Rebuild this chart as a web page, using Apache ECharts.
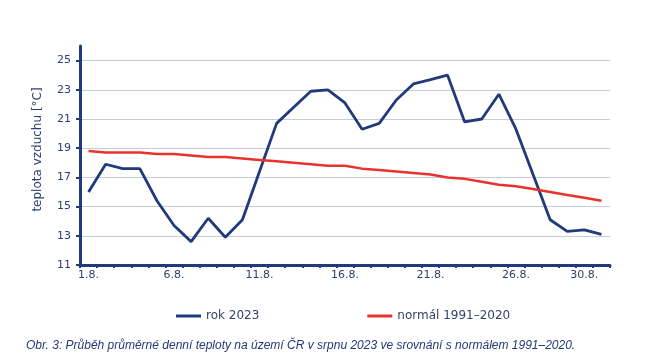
<!DOCTYPE html>
<html>
<head>
<meta charset="utf-8">
<script src="https://cdn.jsdelivr.net/npm/echarts@6/dist/echarts.min.js"></script>
<style>
html,body{margin:0;padding:0;background:#fff;}
#chart{width:651px;height:361px;}
</style>
</head>
<body>
<div id="chart"></div>
<script>
var days = ["1.8.","2.8.","3.8.","4.8.","5.8.","6.8.","7.8.","8.8.","9.8.","10.8.","11.8.","12.8.","13.8.","14.8.","15.8.","16.8.","17.8.","18.8.","19.8.","20.8.","21.8.","22.8.","23.8.","24.8.","25.8.","26.8.","27.8.","28.8.","29.8.","30.8.","31.8."];
var labeledDays = ["1.8.","6.8.","11.8.","16.8.","21.8.","26.8.","30.8."];
var rok2023 = [16.0,17.9,17.6,17.6,15.4,13.7,12.6,14.2,12.9,14.1,17.4,20.7,21.8,22.9,23.0,22.1,20.3,20.7,22.3,23.4,23.7,24.0,20.8,21.0,22.7,20.3,17.2,14.1,13.3,13.4,13.1];
var normal = [18.8,18.7,18.7,18.7,18.6,18.6,18.5,18.4,18.4,18.3,18.2,18.1,18.0,17.9,17.8,17.8,17.6,17.5,17.4,17.3,17.2,17.0,16.9,16.7,16.5,16.4,16.2,16.0,15.8,15.6,15.4];
var yTicks = [11,13,15,17,19,21,23,25];
var seriesNames = ["rok 2023","normál 1991–2020"];
var captionText = "Obr. 3: Průběh průměrné denní teploty na území ČR v srpnu 2023 ve srovnání s normálem 1991–2020.";
var yTitle = "teplota vzduchu [°C]";

var navy = "#213a7c";
var red = "#e8322d";
var chart = echarts.init(document.getElementById('chart'), null, {renderer:'canvas'});
chart.setOption({
  animation: false,
  backgroundColor: '#ffffff',
  title: {
    text: captionText,
    left: 21, top: 335,
    textStyle: {fontFamily: 'Liberation Sans, Arial, sans-serif', fontStyle: 'italic', fontWeight: 'normal', fontSize: 12, color: '#22397a'}
  },
  legend: {
    left: 171, top: 305,
    icon: 'rect',
    itemWidth: 25, itemHeight: 3, itemGap: 108, itemTextGap: 0,
    textStyle: {fontFamily: 'DejaVu Sans', fontSize: 12, color: '#34416b'},
    data: seriesNames
  },
  grid: {left: 80, right: 41, top: 46, bottom: 96, containLabel: false},
  xAxis: {
    type: 'category',
    data: days,
    boundaryGap: true,
    axisLine: {show: true, lineStyle: {color: navy, width: 3}},
    axisTick: {show: true, interval: 0, length: 3, lineStyle: {color: navy, width: 2}},
    axisLabel: {
      interval: function(i, v){ return labeledDays.indexOf(v) >= 0; },
      margin: 5,
      fontFamily: 'DejaVu Sans', fontSize: 11, color: '#2d3f72'
    },
    splitLine: {show: false}
  },
  yAxis: {
    type: 'value',
    min: 11, max: 26, interval: 2,
    name: yTitle,
    nameLocation: 'middle',
    nameGap: 36,
    nameTextStyle: {fontFamily: 'DejaVu Sans', fontSize: 12, color: '#2d3f72', padding: [0,0,0,12]},
    axisLine: {show: true, lineStyle: {color: navy, width: 3}},
    axisTick: {show: true, length: 4, customValues: yTicks, lineStyle: {color: navy, width: 2}},
    axisLabel: {margin: 9, customValues: yTicks, fontFamily: 'DejaVu Sans', fontSize: 11, color: '#2d3f72'},
    splitLine: {show: true, showMinLine: false, lineStyle: {color: '#c6ccd9', width: 1}}
  },
  series: [
    {name: seriesNames[0], type: 'line', data: rok2023, symbol: 'none', smooth: false,
     lineStyle: {color: navy, width: 2.8}, itemStyle: {color: navy}, z: 2},
    {name: seriesNames[1], type: 'line', data: normal, symbol: 'none', smooth: false,
     lineStyle: {color: red, width: 2.5}, itemStyle: {color: red}, z: 3}
  ]
});
</script>
</body>
</html>
